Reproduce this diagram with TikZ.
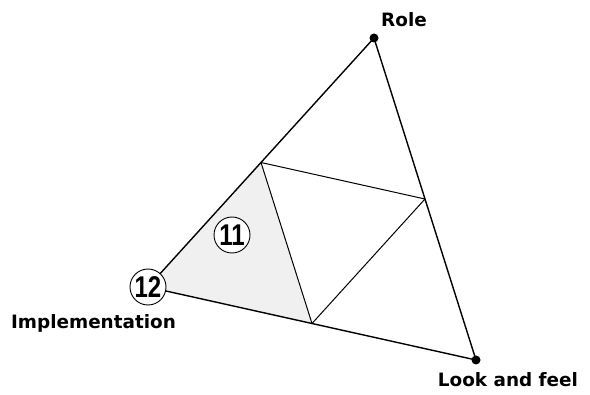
\documentclass[tikz,border=0pt]{standalone}
\usepackage{fontspec}
\usepackage{graphicx}
\setmainfont{DejaVu Sans}
\newfontfamily\numfont{Liberation Sans}
\definecolor{lightgrey}{RGB}{240, 240, 240}
\usetikzlibrary{positioning, calc}
\tikzset{
	vertex/.style={circle, fill=black, inner sep=0pt, minimum size=9pt},
	tag/.style={circle, draw=black, fill=white, line width=0.9pt, inner sep=0pt, minimum size=36pt, font=\numfont\bfseries\fontsize{30}{30}\selectfont},
	caption/.style={font=\bfseries\fontsize{18.4}{20}\selectfont, inner sep=0pt},
	edge/.style={line width=1.4pt, draw=black},
	inner/.style={line width=1.0pt, draw=black},
	patch/.style={fill=lightgrey, draw=none},
}
\newcommand{\tagnum}[1]{\scalebox{0.8}[1]{#1}}

\begin{document}
\begin{tikzpicture}[x=1pt, y=-1pt]
		\useasboundingbox (0,0) rectangle (590,395);
		\coordinate (impl) at (148,287);
		\node[vertex] (role) at (374,38) {};
		\node[vertex] (look) at (476,360) {};
		\coordinate (m1) at ($(impl)!0.5!(role)$);
		\coordinate (m2) at ($(role)!0.5!(look)$);
		\coordinate (m3) at ($(impl)!0.5!(look)$);
		\path[patch] (impl) -- (m1) -- (m3) -- cycle;
		\draw[inner] (m1) -- (m2);
		\draw[inner] (m2) -- (m3);
		\draw[inner] (m3) -- (m1);
		\draw[edge] (impl) -- (role.center);
		\draw[edge] (role.center) -- (look.center);
		\draw[edge] (look.center) -- (impl);
		\node[tag] (t12) at (impl) {\tagnum{12}};
		\node[tag] (t11) at (232,235) {\tagnum{11}};
		\node[caption] (lrole) at (404,20) {Role};
		\node[caption] (llook) at (508,380) {Look and feel};
		\node[caption] (limpl) at (93.5,323) {Implementation};
	\end{tikzpicture}
\end{document}
